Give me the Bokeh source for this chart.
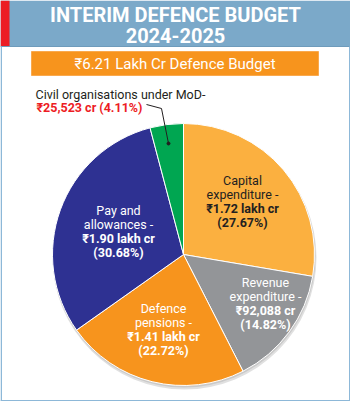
import math
from bokeh.plotting import figure
from bokeh.models import Range1d
from bokeh.core.properties import value
from bokeh.embed import file_html
from bokeh.resources import INLINE

# ---------------- data ----------------
title_lines = ["INTERIM DEFENCE BUDGET", "2024-2025"]
total_label = "₹6.21 Lakh Cr Defence Budget"
categories = ["Capital expenditure", "Revenue expenditure", "Defence pensions",
              "Pay and allowances", "Civil organisations under MoD"]
amounts = ["₹1.72 lakh cr", "₹92,088 cr", "₹1.41 lakh cr", "₹1.90 lakh cr", "₹25,523 cr"]
shares = [27.67, 14.82, 22.72, 30.68, 4.11]
label_top = [["Capital", "expenditure -"], ["Revenue", "expenditure -"],
             ["Defence", "pensions -"], ["Pay and", "allowances -"],
             ["Civil organisations under MoD-"]]
colors = ["#FBB040", "#939598", "#F7941D", "#2E3192", "#00A651"]
text_colors = ["#231F20", "#FFFFFF", "#FFFFFF", "#FFFFFF", "#231F20"]

W, H = 350, 401
def Y(py):
    return H - py

p = figure(width=W, height=H, output_backend="svg", toolbar_location=None,
           x_range=Range1d(0, W), y_range=Range1d(0, H), min_border=0)
p.axis.visible = False
p.grid.visible = False
p.outline_line_color = None
p.background_fill_color = "white"
p.border_fill_color = "white"

FONT = value("Roboto")

# header
p.quad(left=0, right=W, top=Y(0), bottom=Y(46), fill_color="#7BA9C9", line_color=None)
p.quad(left=0, right=9, top=Y(0), bottom=Y(46), fill_color="#EC1C24", line_color=None)
p.line([0, W], [Y(46), Y(46)], line_color="#6E9BBB", line_width=1)
for i, t in enumerate(title_lines):
    p.text(x=[175], y=[Y(14 + i * 21)], text=[t], text_align="center", text_baseline="middle",
           text_color="white", text_font=FONT, text_font_size="20px", text_font_style="bold")

# frame
p.line([0.75, 0.75], [Y(46), 0], line_color="#8DB8D8", line_width=1.5)
p.line([W - 0.75, W - 0.75], [Y(46), 0], line_color="#8DB8D8", line_width=1.5)
p.line([0, W], [0.75, 0.75], line_color="#8DB8D8", line_width=1.5)

# banner
p.quad(left=31, right=318, top=Y(51), bottom=Y(75), fill_color="#F7941D", line_color="#F9A94E")
p.text(x=[174.5], y=[Y(63)], text=[total_label], text_align="center", text_baseline="middle",
       text_color="white", text_font=FONT, text_font_size="15px")

# pie
cx, cy, r = 183, Y(254), 131
p.circle(x=[cx + 1], y=[cy - 3], radius=r + 1, fill_color="#000000", fill_alpha=0.12, line_color=None)
p.circle(x=[cx + 0.5], y=[cy - 1.5], radius=r + 0.5, fill_color="#000000", fill_alpha=0.10, line_color=None)
cum = 0.0
tot = sum(shares)
starts, ends = [], []
for s in shares:
    a0 = math.pi / 2 - cum / tot * 2 * math.pi
    cum += s
    a1 = math.pi / 2 - cum / tot * 2 * math.pi
    starts.append(a1)
    ends.append(a0)
p.wedge(x=cx, y=cy, radius=r, start_angle=starts, end_angle=ends, direction="anticlock",
        fill_color=colors, line_color="white", line_width=1)

# labels inside slices
label_pos = [(242, 180), (265, 282), (163, 308), (118, 210)]
for k in range(4):
    lx, ly = label_pos[k]
    lines = label_top[k] + [amounts[k], "(%.2f%%)" % shares[k]]
    for j, t in enumerate(lines):
        p.text(x=[lx], y=[Y(ly + j * 14)], text=[t], text_align="center", text_baseline="middle",
               text_color=text_colors[k], text_font=FONT, text_font_size="12.5px",
               text_font_style="bold" if j >= 2 else "normal")

# civil organisations callout
p.text(x=[35], y=[Y(94)], text=[label_top[4][0]], text_align="left", text_baseline="middle",
       text_color="#231F20", text_font=FONT, text_font_size="12.5px")
p.text(x=[36], y=[Y(107)], text=["%s (%.2f%%)" % (amounts[4], shares[4])], text_align="left",
       text_baseline="middle", text_color="#ED1C24", text_font=FONT, text_font_size="12.5px",
       text_font_style="bold")
p.line([146, 161, 168], [Y(104), Y(108), Y(143)], line_color="#231F20", line_width=1)
p.scatter([168], [Y(143)], size=3, color="#231F20")

open("out.html", "w").write(file_html(p, INLINE))
